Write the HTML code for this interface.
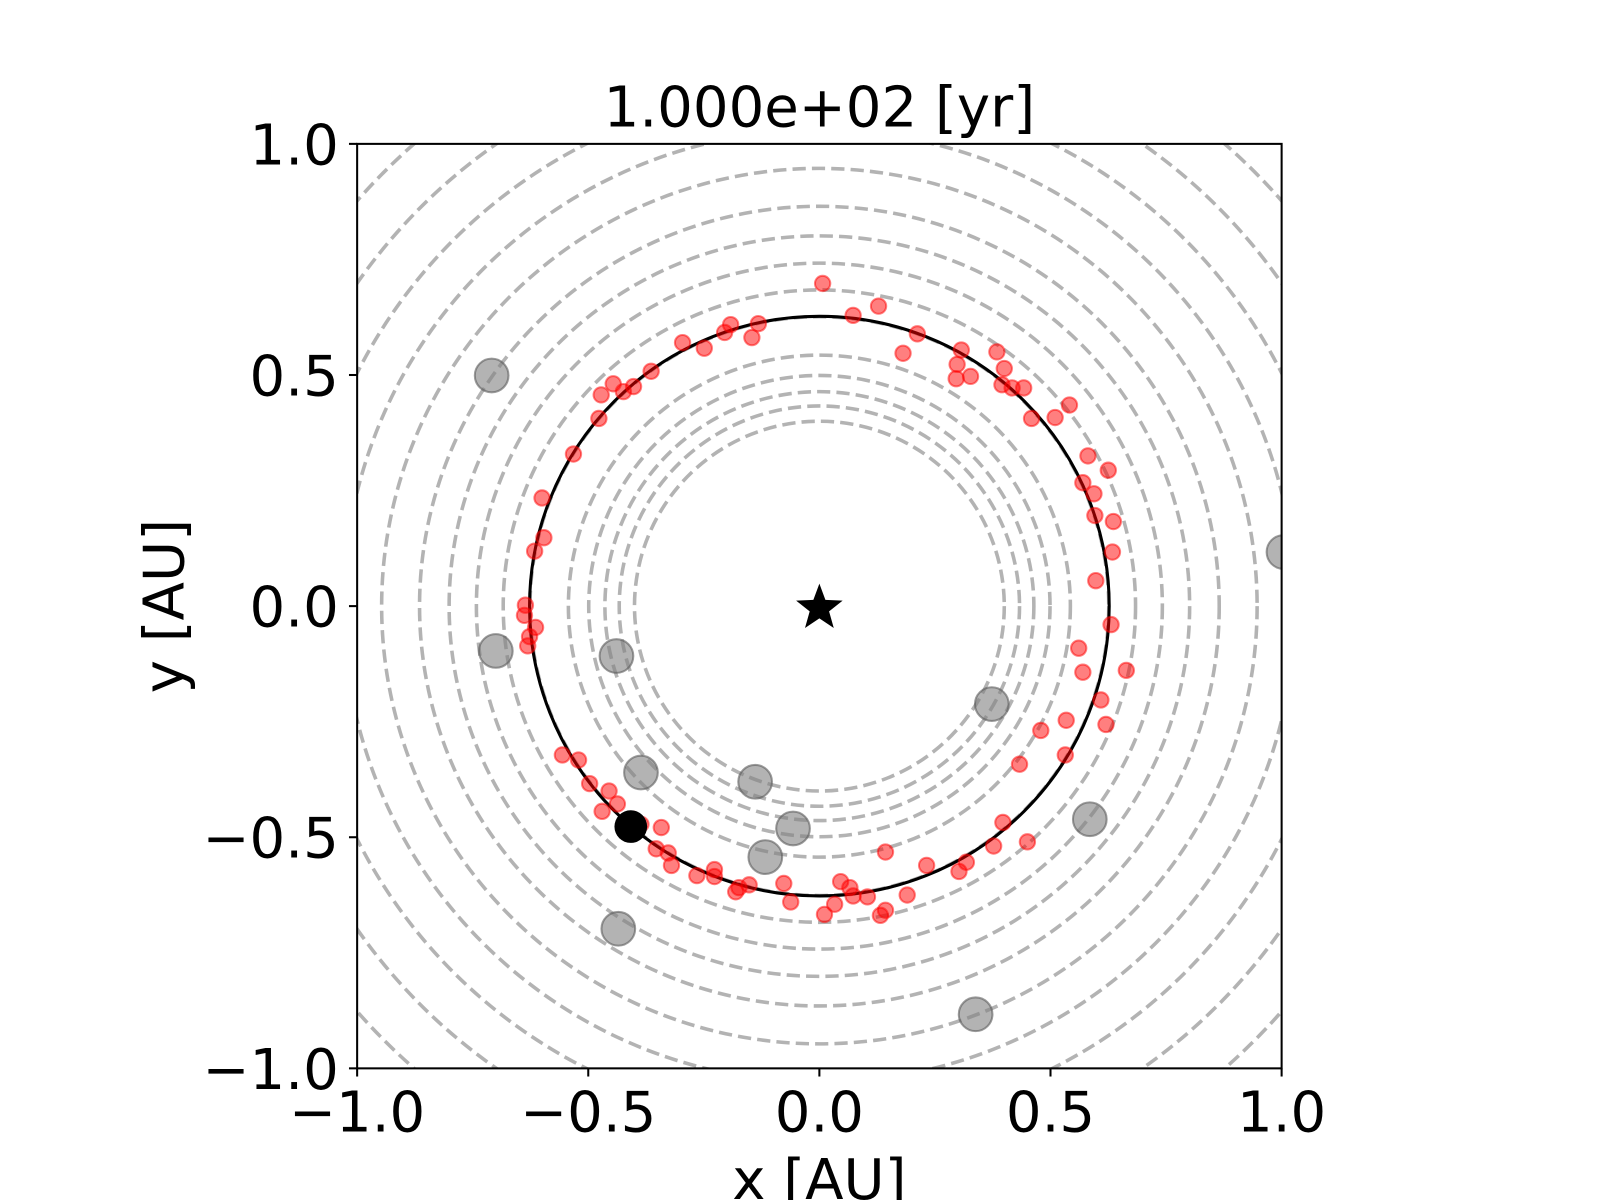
<!DOCTYPE html>
<html><head><meta charset="utf-8"><style>
html,body{margin:0;padding:0;background:#fff;overflow:hidden;}
svg{display:block;font-family:"DejaVu Sans","Liberation Sans",sans-serif;}
</style></head><body>
<svg id="chart" width="1600" height="1200" viewBox="0 0 1600 1200" xmlns="http://www.w3.org/2000/svg">
<defs><clipPath id="clip"><rect x="350" y="141" width="906" height="906"/></clipPath></defs>
<rect width="1600" height="1200" fill="#fff"/>
<g transform="scale(1.0204)">
<text x="803" y="124" font-size="55" text-anchor="middle">1.000e+02 [yr]</text>
<g id="plot" clip-path="url(#clip)"></g>
<rect x="350" y="141" width="906" height="906" fill="none" stroke="#000" stroke-width="2"/>
<g id="ticks"></g>
<text x="803" y="1175" font-size="55" text-anchor="middle">x [AU]</text>
<text transform="translate(180,594) rotate(-90)" font-size="55" text-anchor="middle">y [AU]</text>
</g>
</svg>
<script>
const ringRadii=[0.40,0.433,0.464,0.499,0.543,0.626,0.684,0.742,0.801,0.865,0.947,1.03,1.12,1.22,1.33,1.45];
const orbitRadius=[0.627];
const dustX=[0.007,0.073,0.128,0.212,0.181,0.307,0.384,0.400,0.298,0.327,0.296,0.395,0.417,0.442,0.459,0.510,0.541,0.581,0.625,0.570,0.594,0.596,0.636,0.634,0.598,0.631,0.561,0.570,0.664,0.609,0.620,0.534,0.532,0.479,0.433,0.397,0.377,0.450,0.318,0.302,0.232,0.190,0.143,0.132,0.143,0.104,0.066,0.073,0.046,0.033,0.011,-0.062,-0.077,-0.152,-0.174,-0.181,-0.227,-0.227,-0.265,-0.320,-0.327,-0.342,-0.353,-0.386,-0.404,-0.437,-0.455,-0.470,-0.497,-0.521,-0.556,-0.636,-0.638,-0.614,-0.627,-0.631,-0.616,-0.596,-0.600,-0.532,-0.477,-0.472,-0.446,-0.424,-0.402,-0.364,-0.296,-0.249,-0.205,-0.192,-0.146,-0.132];
const dustY=[0.698,0.629,0.649,0.589,0.547,0.554,0.550,0.514,0.523,0.497,0.492,0.479,0.472,0.472,0.406,0.408,0.435,0.325,0.294,0.267,0.243,0.196,0.183,0.117,0.055,-0.040,-0.091,-0.143,-0.139,-0.203,-0.256,-0.247,-0.322,-0.269,-0.342,-0.468,-0.519,-0.510,-0.554,-0.574,-0.561,-0.625,-0.658,-0.669,-0.532,-0.629,-0.609,-0.627,-0.596,-0.645,-0.667,-0.640,-0.600,-0.603,-0.609,-0.618,-0.570,-0.585,-0.583,-0.561,-0.534,-0.479,-0.525,-0.472,-0.461,-0.428,-0.400,-0.444,-0.384,-0.333,-0.322,0.002,-0.020,-0.046,-0.066,-0.086,0.119,0.148,0.234,0.329,0.406,0.457,0.481,0.464,0.475,0.508,0.570,0.558,0.592,0.609,0.581,0.611];
const bodyX=[-0.709,-0.700,-0.439,0.373,-0.386,-0.139,-0.057,-0.117,0.585,-0.435,0.338,1.004];
const bodyY=[0.499,-0.097,-0.108,-0.212,-0.360,-0.380,-0.481,-0.543,-0.461,-0.698,-0.883,0.117];
const planetX=[-0.408];
const planetY=[-0.477];
const tickValues=[-1.0,-0.5,0.0,0.5,1.0];
const tickLabels=["\u22121.0","\u22120.5","0.0","0.5","1.0"];

const NS="http://www.w3.org/2000/svg";
const X0=350,X1=1256,Y0=1047,Y1=141;
const sx=v=>X0+(v+1)/2*(X1-X0);
const sy=v=>Y0-(v+1)/2*(Y0-Y1);
const s=v=>v/2*(X1-X0);
const plot=document.getElementById('plot');
const ticks=document.getElementById('ticks');
function mk(tag,attrs,parent){const e=document.createElementNS(NS,tag);for(const k in attrs)e.setAttribute(k,attrs[k]);parent.appendChild(e);return e;}

ringRadii.forEach(r=>{
  const c=mk('circle',{cx:sx(0),cy:sy(0),r:s(r),fill:'none',stroke:'#b3b3b3','stroke-width':3.5,'stroke-dasharray':'13 6'},plot);
  
  
});
orbitRadius.forEach(r=>{
  const c=mk('circle',{cx:sx(0),cy:sy(0),r:s(r),fill:'none',stroke:'#000','stroke-width':3},plot);
  
  
});
dustX.forEach((x,i)=>{
  const c=mk('circle',{cx:sx(x),cy:sy(dustY[i]),r:7.5,fill:'rgba(255,0,0,0.5)',stroke:'rgba(255,0,0,0.5)','stroke-width':2},plot);
  
  
});
bodyX.forEach((x,i)=>{
  const c=mk('circle',{cx:sx(x),cy:sy(bodyY[i]),r:16.5,fill:'rgba(128,128,128,0.6)',stroke:'rgba(90,90,90,0.6)','stroke-width':2},plot);
  
  
});
planetX.forEach((x,i)=>{
  const c=mk('circle',{cx:sx(x),cy:sy(planetY[i]),r:16,fill:'#000'},plot);
  
  
});
(function(){
  const cx=sx(0),cy=sy(0)+2,R=24,r=10;let p='';
  for(let k=0;k<10;k++){const a=-Math.PI/2+k*Math.PI/5;const rr=k%2?r:R;p+=(k?'L':'M')+(cx+rr*Math.cos(a)).toFixed(1)+' '+(cy+rr*Math.sin(a)).toFixed(1);}
  const st=mk('path',{d:p+'Z',fill:'#000'},plot);
  
  
})();
tickValues.forEach((v,i)=>{
  const a=mk('line',{x1:sx(v),x2:sx(v),y1:Y0,y2:Y0+8,stroke:'#000','stroke-width':2},ticks);
  
  
  const t=mk('text',{x:sx(v),y:Y0+62,'font-size':55,'text-anchor':'middle'},ticks);
  t.textContent=tickLabels[i];
  
  
  const b=mk('line',{x1:X0-8,x2:X0,y1:sy(v),y2:sy(v),stroke:'#000','stroke-width':2},ticks);
  
  
  const u=mk('text',{x:X0-18,y:sy(v)+20,'font-size':55,'text-anchor':'end'},ticks);
  u.textContent=tickLabels[i];
  
  
});
</script>
</body></html>
